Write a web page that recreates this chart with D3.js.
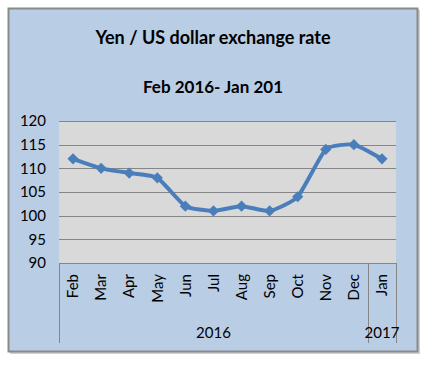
<!DOCTYPE html>
<html>
<head>
<meta charset="utf-8">
<script src="https://cdn.jsdelivr.net/npm/d3@7"></script>
<style>
  body { margin: 0; background: #fff; }
  text { font-family: Lato, "Open Sans", sans-serif; fill: #000; }
</style>
</head>
<body>
<script>
var w = 432;
var h = 365;

// data
var months = ["Feb", "Mar", "Apr", "May", "Jun", "Jul", "Aug", "Sep", "Oct", "Nov", "Dec", "Jan"];
var rates = [112, 110, 109, 108, 102, 101, 102, 101, 104, 114, 115, 112];
var yTicks = [90, 95, 100, 105, 110, 115, 120];
var years = [
  { label: "2016", from: 0, to: 10 },
  { label: "2017", from: 11, to: 11 }
];

var plot = { left: 59, right: 396, top: 121, bottom: 263 };

var svg = d3.select("body").append("svg")
  .attr("width", w)
  .attr("height", h);

// chart frame
svg.append("rect")
  .attr("x", 10).attr("y", 10)
  .attr("width", 410).attr("height", 344)
  .attr("fill", "#d0d0d0");
svg.append("rect")
  .attr("x", 8.5).attr("y", 8.5)
  .attr("width", 409).attr("height", 343)
  .attr("fill", "#b9cde5")
  .attr("stroke", "#8a8a8a")
  .attr("stroke-width", 2);

// titles
svg.append("text")
  .attr("x", 213).attr("y", 44)
  .attr("text-anchor", "middle")
  .attr("font-size", "18px")
  .attr("font-weight", "bold")
  .text("Yen / US dollar exchange rate");
svg.append("text")
  .attr("x", 213).attr("y", 93)
  .attr("text-anchor", "middle")
  .attr("font-size", "17px")
  .attr("font-weight", "bold")
  .text("Feb 2016- Jan 201");

// scales
var xScale = d3.scaleBand()
  .domain(d3.range(months.length))
  .range([plot.left, plot.right]);

var yScale = d3.scaleLinear()
  .domain([90, 120])
  .range([plot.bottom, plot.top]);

// plot area
svg.append("rect")
  .attr("x", plot.left).attr("y", plot.top)
  .attr("width", plot.right - plot.left)
  .attr("height", plot.bottom - plot.top)
  .attr("fill", "#d9d9d9");

// gridlines
svg.selectAll("line.grid")
  .data(yTicks)
  .enter()
  .append("line")
  .attr("class", "grid")
  .attr("x1", plot.left)
  .attr("x2", plot.right)
  .attr("y1", function (d) { return Math.round(yScale(d)) + 0.5; })
  .attr("y2", function (d) { return Math.round(yScale(d)) + 0.5; })
  .attr("stroke", "#868686")
  .attr("stroke-width", 1);

// y axis labels
var yaxis = d3.axisLeft(yScale)
  .tickValues(yTicks)
  .tickSize(0)
  .tickPadding(13);

var gy = svg.append("g")
  .attr("transform", "translate(" + plot.left + ",0)")
  .call(yaxis);
gy.select(".domain").remove();
gy.selectAll("text")
  .attr("font-family", "Lato, sans-serif")
  .attr("font-size", "15px")
  .attr("fill", "#000");

// x axis: month labels
var xaxis = d3.axisBottom(xScale)
  .tickSize(0)
  .tickFormat(function (i) { return months[i]; });

var gx = svg.append("g")
  .attr("transform", "translate(0," + plot.bottom + ")")
  .call(xaxis);
gx.select(".domain").remove();
gx.selectAll("text")
  .attr("font-family", "Lato, sans-serif")
  .attr("font-size", "15px")
  .attr("fill", "#000")
  .attr("transform", "rotate(-90)")
  .attr("text-anchor", "end")
  .attr("x", -11)
  .attr("y", 0)
  .attr("dy", "0.35em");

// category boundaries
var bounds = [plot.left, xScale(11), plot.right];
svg.selectAll("line.bound")
  .data(bounds)
  .enter()
  .append("line")
  .attr("class", "bound")
  .attr("x1", function (d) { return Math.round(d) + 0.5; })
  .attr("x2", function (d) { return Math.round(d) + 0.5; })
  .attr("y1", plot.bottom)
  .attr("y2", 343)
  .attr("stroke", "#868686");

svg.append("line")
  .attr("x1", plot.left).attr("x2", plot.right)
  .attr("y1", plot.bottom + 0.5).attr("y2", plot.bottom + 0.5)
  .attr("stroke", "#868686");

// year labels
svg.selectAll("text.year")
  .data(years)
  .enter()
  .append("text")
  .attr("class", "year")
  .attr("x", function (d) {
    return (xScale(d.from) + xScale(d.to) + xScale.bandwidth()) / 2;
  })
  .attr("y", 338)
  .attr("text-anchor", "middle")
  .attr("font-size", "15px")
  .text(function (d) { return d.label; });

// line
var line = d3.line()
  .x(function (d, i) { return xScale(i) + xScale.bandwidth() / 2; })
  .y(function (d) { return yScale(d); })
  .curve(d3.curveCardinal.tension(0.5));

svg.append("path")
  .datum(rates)
  .attr("d", line)
  .attr("fill", "none")
  .attr("stroke", "#4a7ebb")
  .attr("stroke-width", 4)
  .attr("stroke-linejoin", "round");

// diamond markers
svg.selectAll("path.marker")
  .data(rates)
  .enter()
  .append("path")
  .attr("class", "marker")
  .attr("d", d3.symbol().type(d3.symbolDiamond2).size(80))
  .attr("transform", function (d, i) {
    return "translate(" + (xScale(i) + xScale.bandwidth() / 2) + "," + yScale(d) + ")";
  })
  .attr("fill", "#4a7ebb");
</script>
</body>
</html>
